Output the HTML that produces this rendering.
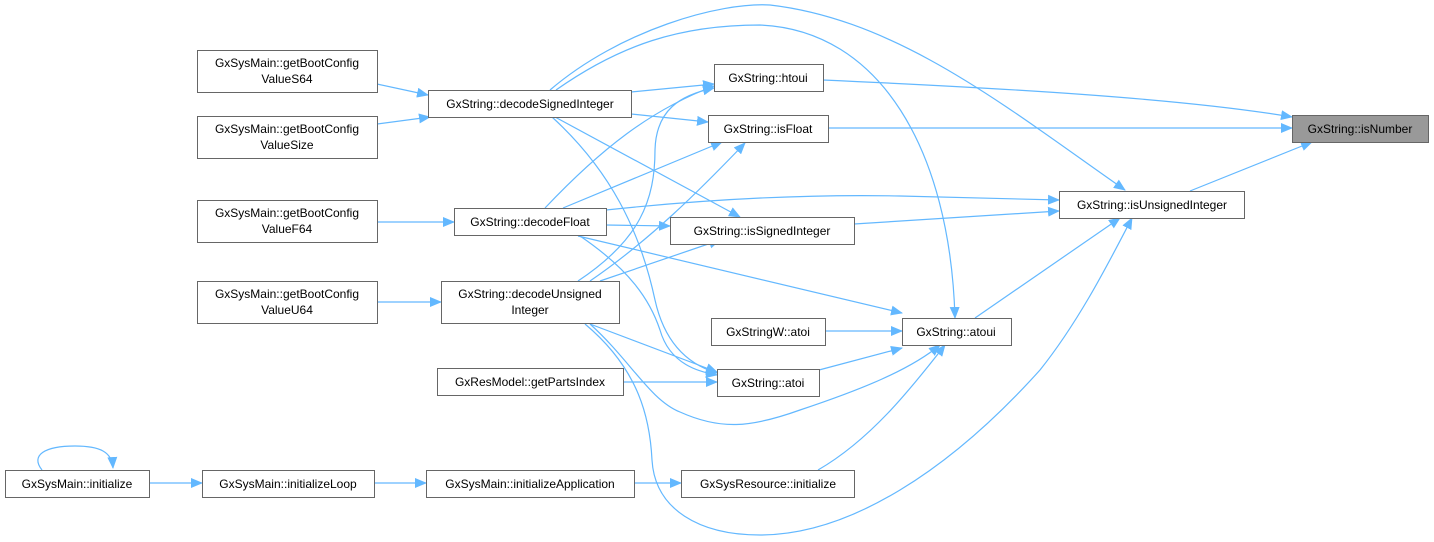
<!DOCTYPE html>
<html><head><meta charset="utf-8"><style>
html,body{margin:0;padding:0;background:#fff;}
svg{display:block;}
text{font-family:"Liberation Sans",sans-serif;font-size:12px;fill:#000;}
rect.n{fill:#fff;stroke:#666;stroke-width:1;}
path.e{fill:none;stroke:#63b8ff;stroke-width:1.2;}
</style></head><body>
<svg width="1434" height="542" viewBox="0 0 1434 542" xmlns="http://www.w3.org/2000/svg">
<defs><marker id="a" markerWidth="12" markerHeight="10" refX="11" refY="5" orient="auto" markerUnits="userSpaceOnUse"><path d="M0,0 L12,5 L0,10 Z" fill="#63b8ff"/></marker></defs>
<g marker-end="url(#a)">
<path class="e" d="M377,84 L428,95"/>
<path class="e" d="M377,124 L430,117"/>
<path class="e" d="M377,222 L454,222"/>
<path class="e" d="M377,302 L441,302"/>
<path class="e" d="M150,483 L202,483"/>
<path class="e" d="M374,483 L426,483"/>
<path class="e" d="M634,483 L681,483"/>
<path class="e" d="M42,470 C30,455 45,446 75,446 C100,446 112,452 113,468"/>
<path class="e" d="M631,92 L714,84"/>
<path class="e" d="M631,114 L708,122"/>
<path class="e" d="M555,117 L740,217"/>
<path class="e" d="M552,117 C610,170 640,230 655,300 C665,345 690,365 717,373"/>
<path class="e" d="M550,90 C620,30 720,2 770,5 C900,20 1010,110 1125,190"/>
<path class="e" d="M556,90 C620,45 680,25 760,25 C880,30 950,150 955,318"/>
<path class="e" d="M545,208 C600,150 650,110 714,86"/>
<path class="e" d="M563,208 L722,142"/>
<path class="e" d="M606,225 L670,226"/>
<path class="e" d="M606,210 C700,200 800,194 900,196 C970,198 1020,199 1059,200"/>
<path class="e" d="M578,236 L902,313"/>
<path class="e" d="M580,236 C630,270 650,300 660,330 C670,365 700,372 717,375"/>
<path class="e" d="M578,281 C640,240 655,200 655,150 C656,110 680,95 714,88"/>
<path class="e" d="M590,281 C650,240 700,190 745,143"/>
<path class="e" d="M600,281 L720,240"/>
<path class="e" d="M590,324 L717,372"/>
<path class="e" d="M590,324 C630,360 650,400 680,412 C720,430 750,428 800,410 C860,390 910,370 940,345"/>
<path class="e" d="M585,324 C640,370 650,420 652,460 C655,510 700,535 760,535 C850,535 950,470 1040,370 C1080,320 1110,260 1132,218"/>
<path class="e" d="M623,382 L717,382"/>
<path class="e" d="M823,80 C1000,88 1180,98 1292,117"/>
<path class="e" d="M828,128 L1292,128"/>
<path class="e" d="M1190,191 L1312,142"/>
<path class="e" d="M854,224 L1059,211"/>
<path class="e" d="M975,318 L1120,218"/>
<path class="e" d="M825,331 L902,331"/>
<path class="e" d="M819,370 L902,348"/>
<path class="e" d="M818,470 C870,440 910,390 945,345"/>
</g>
<g>
<rect class="n" x="197.5" y="50.5" width="180" height="42"/><text x="287" y="67" text-anchor="middle">GxSysMain::getBootConfig</text><text x="287" y="83" text-anchor="middle">ValueS64</text>
<rect class="n" x="197.5" y="116.5" width="180" height="42"/><text x="287" y="133" text-anchor="middle">GxSysMain::getBootConfig</text><text x="287" y="149" text-anchor="middle">ValueSize</text>
<rect class="n" x="197.5" y="200.5" width="180" height="42"/><text x="287" y="217" text-anchor="middle">GxSysMain::getBootConfig</text><text x="287" y="233" text-anchor="middle">ValueF64</text>
<rect class="n" x="197.5" y="281.5" width="180" height="42"/><text x="287" y="298" text-anchor="middle">GxSysMain::getBootConfig</text><text x="287" y="314" text-anchor="middle">ValueU64</text>
<rect class="n" x="5.5" y="470.5" width="144" height="27"/><text x="77" y="488" text-anchor="middle">GxSysMain::initialize</text>
<rect class="n" x="202.5" y="470.5" width="172" height="27"/><text x="288" y="488" text-anchor="middle">GxSysMain::initializeLoop</text>
<rect class="n" x="426.5" y="470.5" width="208" height="27"/><text x="530" y="488" text-anchor="middle">GxSysMain::initializeApplication</text>
<rect class="n" x="428.5" y="90.5" width="203" height="27"/><text x="530" y="108" text-anchor="middle">GxString::decodeSignedInteger</text>
<rect class="n" x="454.5" y="208.5" width="152" height="27"/><text x="530" y="226" text-anchor="middle">GxString::decodeFloat</text>
<rect class="n" x="441.5" y="281.5" width="178" height="42"/><text x="530" y="298" text-anchor="middle">GxString::decodeUnsigned</text><text x="530" y="314" text-anchor="middle">Integer</text>
<rect class="n" x="437.5" y="368.5" width="186" height="27"/><text x="530" y="386" text-anchor="middle">GxResModel::getPartsIndex</text>
<rect class="n" x="714.5" y="64.5" width="109" height="27"/><text x="768" y="82" text-anchor="middle">GxString::htoui</text>
<rect class="n" x="708.5" y="115.5" width="120" height="27"/><text x="768" y="133" text-anchor="middle">GxString::isFloat</text>
<rect class="n" x="670.5" y="217.5" width="184" height="27"/><text x="762" y="235" text-anchor="middle">GxString::isSignedInteger</text>
<rect class="n" x="711.5" y="318.5" width="114" height="27"/><text x="768" y="336" text-anchor="middle">GxStringW::atoi</text>
<rect class="n" x="717.5" y="369.5" width="102" height="27"/><text x="768" y="387" text-anchor="middle">GxString::atoi</text>
<rect class="n" x="681.5" y="470.5" width="173" height="27"/><text x="768" y="488" text-anchor="middle">GxSysResource::initialize</text>
<rect class="n" x="902.5" y="318.5" width="109" height="27"/><text x="956" y="336" text-anchor="middle">GxString::atoui</text>
<rect class="n" x="1059.5" y="191.5" width="185" height="27"/><text x="1152" y="209" text-anchor="middle">GxString::isUnsignedInteger</text>
<rect x="1292.5" y="115.5" width="136" height="27" fill="#999" stroke="#666"/><text x="1360" y="133" text-anchor="middle">GxString::isNumber</text>
</g>
</svg>
</body></html>
